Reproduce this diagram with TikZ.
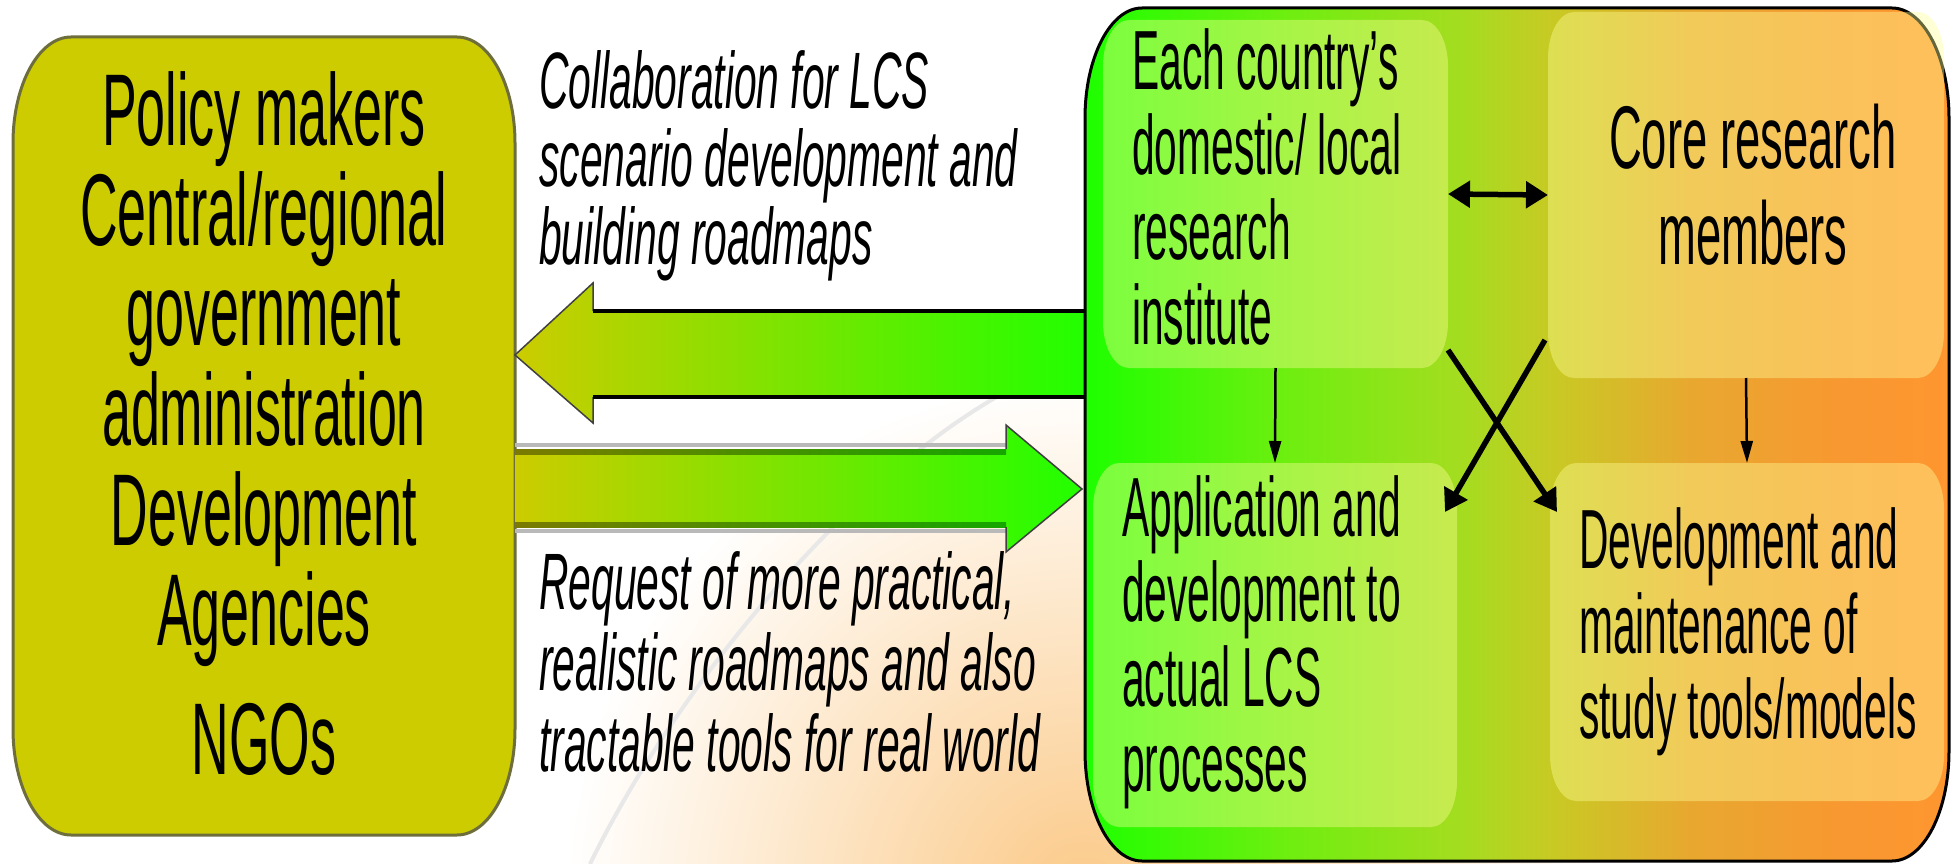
\documentclass[tikz,border=0pt]{standalone}
\usepackage{fontspec}
\setmainfont{Liberation Sans}
\newfontfamily\condwide[FakeStretch=0.51]{Liberation Sans}
\newfontfamily\condnarrow[FakeStretch=0.485]{Liberation Sans}
\usetikzlibrary{arrows.meta}

\definecolor{olivebox}{HTML}{CCCC00}
\definecolor{oliveedge}{HTML}{6E6E3C}
\definecolor{arrowgreen}{HTML}{22FF00}
\definecolor{paleyellow}{HTML}{FFFF99}
\definecolor{peach}{HTML}{FBC987}
\definecolor{tgA}{HTML}{1EFF00}
\definecolor{tgB}{HTML}{70EE10}
\definecolor{tgC}{HTML}{A6DC20}
\definecolor{tgD}{HTML}{C8CA24}
\definecolor{tgE}{HTML}{E8A830}
\definecolor{tgF}{HTML}{F89830}
\definecolor{tgG}{HTML}{FF9630}

\pgfdeclarehorizontalshading{teamshade}{100bp}{color(0bp)=(tgA); color(25bp)=(tgA);
  color(37bp)=(tgB); color(47bp)=(tgC); color(52bp)=(tgD); color(60bp)=(tgE);
  color(69bp)=(tgF); color(75bp)=(tgG); color(100bp)=(tgG)}

% rounded box with elliptic corners, drawn round a named node
\newcommand\ovalpath[3]{([xshift=#2]#1.north west) -- ([xshift=-#2]#1.north east)
  arc[start angle=90, end angle=0, x radius=#2, y radius=#3] -- ([yshift=#3]#1.south east)
  arc[start angle=0, end angle=-90, x radius=#2, y radius=#3] -- ([xshift=#2]#1.south west)
  arc[start angle=270, end angle=180, x radius=#2, y radius=#3] -- ([yshift=-#3]#1.north west)
  arc[start angle=180, end angle=90, x radius=#2, y radius=#3] -- cycle}

\begin{document}
\begin{tikzpicture}[x=1pt, y=-1pt,
  box/.style={rectangle, inner sep=0pt, outer sep=0pt},
  lead/.style={inner sep=0pt, anchor=base west, align=left, font=\condwide\itshape\fontsize{80}{78}\selectfont},
  celltext/.style={inner sep=0pt, anchor=base west, align=left, font=\condnarrow\fontsize{84}{85}\selectfont},
  cellfill/.style={fill=paleyellow, fill opacity=0.4},
  thinarrow/.style={-{Triangle[length=22pt,width=12pt]}, line width=2.5pt, draw=black},
  fatarrow/.style={-{Triangle[length=22pt,width=26pt]}, line width=5.5pt, draw=black}]
\useasboundingbox (0,0) rectangle (1951,864);
\fill[white] (0,0) rectangle (1951,864);
% faint glow behind the arrows
\begin{scope}
\clip (0,0) rectangle (1951,864);
\shade[inner color=peach, outer color=white] (1085,900) circle[radius=520pt];
\draw[gray!18, line width=4pt] (1000,395) .. controls (850,480) and (680,680) .. (590,864);
\end{scope}

\node[box, minimum width=502pt, minimum height=798pt] (policy) at (264,436) {};
\node[box, minimum width=864pt, minimum height=853pt] (team) at (1517,434.5) {};
\node[box, minimum width=345pt, minimum height=348pt] (each) at (1275.5,194) {};
\node[box, minimum width=396pt, minimum height=366pt] (core) at (1746,195) {};
\node[box, minimum width=364pt, minimum height=364pt] (appl) at (1275,645) {};
\node[box, minimum width=394pt, minimum height=338pt] (dev) at (1747,632) {};
\coordinate (back) at (1085,355);
\coordinate (fwd) at (1082,489);

\path[fill=olivebox, draw=oliveedge, line width=3pt] \ovalpath{policy}{58pt}{106pt};

% big arrows
\shade[left color=olivebox, right color=arrowgreen] (back) ++(0,-43) -- ++(-492,0) -- ++(0,-29)
  -- (policy.east |- back) -- ++(78,68) -- ++(0,-26) -- ++(492,0) -- cycle;
\draw[black!75, line width=1.5pt] (593,311) -- (593,283) -- (policy.east |- back) -- (593,423) -- (593,397);
\draw[line width=4pt] (593,311) -- (back |- 0,311);
\draw[line width=4pt] (593,397) -- (back |- 0,397);

\draw[gray!55, line width=4pt] (515,445) -- (1006,445);
\draw[gray!55, line width=4pt] (515,531) -- (1006,531);
\shade[left color=olivebox, right color=arrowgreen] (policy.east |- fwd) ++(0,-40) -- ++(491,0) -- ++(0,-24)
  -- (fwd) -- ++(-76,63) -- ++(0,-25) -- ++(-491,0) -- cycle;
\shade[left color=olivebox!60!black, right color=arrowgreen!65!black] (515,449) rectangle (1006,454);
\shade[left color=olivebox!60!black, right color=arrowgreen!65!black] (515,522) rectangle (1006,527);
\draw[black!75, line width=1.5pt] (1006,449) -- (1006,425) -- (fwd) -- (1006,552) -- (1006,527);

\shadedraw[shading=teamshade, draw=black, line width=3pt] \ovalpath{team}{57pt}{110pt};
\path[cellfill] \ovalpath{each}{26pt}{46pt};
\path[cellfill] \ovalpath{core}{26pt}{46pt};
\path[cellfill] \ovalpath{appl}{26pt}{46pt};
\path[cellfill] \ovalpath{dev}{26pt}{46pt};

% texts, placed at the baseline of their last line
\node[inner sep=0pt, anchor=base, align=center, font=\condwide\fontsize{102}{100}\selectfont] (policytxt) at (264,774)
  {Policy makers\\Central/regional\\government\\administration\\Development\\Agencies\\[29pt]NGOs};
\node[lead] (collab) at (539,264) {Collaboration for LCS\\scenario development and\\building roadmaps};
\node[lead, font=\condwide\itshape\fontsize{80}{81}\selectfont] (request) at (539,771)
  {Request of more practical,\\realistic roadmaps and also\\tractable tools for real world};
\node[celltext] (eachtxt) at (1132,344) {Each country’s\\domestic/ local\\research\\institute};
\node[inner sep=0pt, anchor=base, align=center, font=\condwide\fontsize{89}{96}\selectfont] (coretxt) at (1753,264)
  {Core research\\members};
\node[celltext] (appltxt) at (1122,791) {Application and\\development to\\actual LCS\\processes};
\node[celltext] (devtxt) at (1579,738) {Development and\\maintenance of\\study tools/models};

\draw[fatarrow, {Triangle[length=22pt,width=26pt]}-{Triangle[length=22pt,width=26pt]}] (each.east) -- (core.west);
\draw[thinarrow] (each.south) -- (appl.north);
\draw[thinarrow] (core.south) -- (dev.north);
\draw[fatarrow] ([yshift=18pt]each.south east) -- ([xshift=7pt,yshift=-49pt]dev.north west);
\draw[fatarrow] ([xshift=-3pt,yshift=38pt]core.south west) -- ([xshift=-12pt,yshift=-49pt]appl.north east);
\end{tikzpicture}
\end{document}
